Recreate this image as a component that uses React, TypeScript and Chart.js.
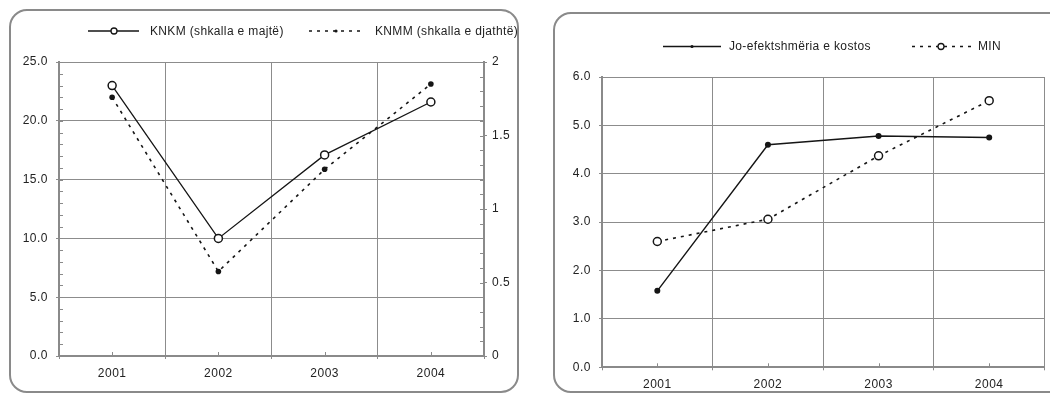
import React, { useEffect, useRef } from 'react';
import { Chart, registerables } from 'chart.js';

Chart.register(...registerables);

// ---- data ----
const years = ['2001', '2002', '2003', '2004'];
const knkm = [23.0, 10.0, 17.1, 21.6];
const knmm = [1.76, 0.575, 1.27, 1.85];
const joEfekt = [1.58, 4.6, 4.78, 4.75];
const minVals = [2.6, 3.06, 4.37, 5.51];

const labelKNKM = 'KNKM (shkalla e majtë)';
const labelKNMM = 'KNMM (shkalla e djathtë)';
const labelJo = 'Jo-efektshmëria e kostos';
const labelMIN = 'MIN';

// ---- styles ----
const FONT = '"Liberation Sans", Arial, Helvetica, sans-serif';
const TEXT = '#222';
const GRID = '#8c8c8c';
const AXIS = '#8a8a8a';
const INK = '#151515';

type LegendItem = {
  text: string;
  x1: number;
  x2: number;
  mx: number;
  tx: number;
  y: number;
  dash: number[];
  marker: 'open' | 'dot';
};

type Minor = { axis: string; step: number; side: 'left' | 'right' };

function makeDecor(legend: LegendItem[], minor: Minor[]) {
  return {
    id: 'decor',
    beforeDraw(chart: any) {
      chart.ctx.letterSpacing = '0.5px';
    },
    beforeDatasetsDraw(chart: any) {
      const ctx = chart.ctx;
      const area = chart.chartArea;
      ctx.save();
      ctx.strokeStyle = AXIS;
      ctx.lineWidth = 1;
      ctx.setLineDash([]);
      for (const m of minor) {
        const sc = chart.scales[m.axis];
        const n = Math.round((sc.max - sc.min) / m.step);
        for (let i = 0; i <= n; i++) {
          const y = Math.round(sc.getPixelForValue(sc.min + i * m.step)) + 0.5;
          ctx.beginPath();
          if (m.side === 'left') {
            ctx.moveTo(area.left, y);
            ctx.lineTo(area.left + 4, y);
          } else {
            ctx.moveTo(area.right - 4, y);
            ctx.lineTo(area.right, y);
          }
          ctx.stroke();
        }
      }
      const xs = chart.scales.x;
      for (let i = 0; i < chart.data.labels.length; i++) {
        const x = Math.round(xs.getPixelForValue(i)) + 0.5;
        ctx.beginPath();
        ctx.moveTo(x, area.bottom);
        ctx.lineTo(x, area.bottom - 4);
        ctx.stroke();
      }
      ctx.restore();
    },
    afterDraw(chart: any) {
      const ctx = chart.ctx;
      ctx.save();
      for (const it of legend) {
        ctx.strokeStyle = INK;
        ctx.lineWidth = 1.4;
        ctx.setLineDash(it.dash);
        ctx.beginPath();
        ctx.moveTo(it.x1, it.y);
        ctx.lineTo(it.x2, it.y);
        ctx.stroke();
        ctx.setLineDash([]);
        ctx.beginPath();
        if (it.marker === 'open') {
          ctx.arc(it.mx, it.y, 3, 0, Math.PI * 2);
          ctx.fillStyle = '#fff';
          ctx.fill();
          ctx.lineWidth = 1.3;
          ctx.stroke();
        } else {
          ctx.arc(it.mx, it.y, 1.6, 0, Math.PI * 2);
          ctx.fillStyle = INK;
          ctx.fill();
        }
        ctx.fillStyle = TEXT;
        ctx.font = `12px ${FONT}`;
        ctx.letterSpacing = '0.35px';
        ctx.textBaseline = 'middle';
        ctx.textAlign = 'left';
        ctx.fillText(it.text, it.tx, it.y + 0.5);
      }
      ctx.restore();
    },
  };
}

const tickFont = { family: FONT, size: 12 };

function LeftChart() {
  const ref = useRef<HTMLCanvasElement>(null);
  useEffect(() => {
    const legend: LegendItem[] = [
      { text: labelKNKM, x1: 88, x2: 139, mx: 114, tx: 150, y: 31, dash: [], marker: 'open' },
      { text: labelKNMM, x1: 309, x2: 365, mx: 336, tx: 375, y: 31, dash: [3, 5], marker: 'dot' },
    ];
    const chart = new Chart(ref.current as HTMLCanvasElement, {
      type: 'line',
      data: {
        labels: years,
        datasets: [
          {
            label: labelKNKM,
            data: knkm,
            yAxisID: 'y',
            borderColor: INK,
            borderWidth: 1.3,
            pointRadius: 4,
            pointBorderWidth: 1.5,
            pointBackgroundColor: '#fff',
            pointBorderColor: INK,
            tension: 0,
          },
          {
            label: labelKNMM,
            data: knmm,
            yAxisID: 'y1',
            borderColor: INK,
            borderWidth: 1.6,
            borderDash: [3, 5],
            pointRadius: 2.8,
            pointBorderWidth: 0,
            pointBackgroundColor: INK,
            pointBorderColor: INK,
            tension: 0,
          },
        ],
      },
      options: {
        responsive: false,
        animation: false,
        devicePixelRatio: 1,
        layout: { padding: { top: 62, left: 0, right: 0, bottom: 0 } },
        plugins: { legend: { display: false }, tooltip: { enabled: false } },
        scales: {
          x: {
            offset: true,
            grid: { offset: true, color: GRID, lineWidth: 1, tickLength: 3 },
            border: { color: AXIS, width: 2 },
            ticks: { font: tickFont, color: TEXT, padding: 7 },
            afterFit: (s: any) => {
              s.height = 39;
            },
          },
          y: {
            position: 'left',
            min: 0,
            max: 25,
            grid: { color: GRID, lineWidth: 1, tickLength: 3 },
            border: { color: AXIS, width: 2 },
            ticks: {
              stepSize: 5,
              font: tickFont,
              color: TEXT,
              padding: 8,
              callback: (v: any) => Number(v).toFixed(1),
            },
            afterFit: (s: any) => {
              s.width = 59;
            },
          },
          y1: {
            position: 'right',
            min: 0,
            max: 2,
            grid: { drawOnChartArea: false, color: AXIS, tickLength: 3 },
            border: { color: AXIS, width: 2 },
            ticks: {
              stepSize: 0.5,
              font: tickFont,
              color: TEXT,
              padding: 5,
              callback: (v: any) => String(v),
            },
            afterFit: (s: any) => {
              s.width = 46;
            },
          },
        },
      },
      plugins: [
        makeDecor(legend, [
          { axis: 'y', step: 1, side: 'left' },
          { axis: 'y1', step: 0.1, side: 'right' },
        ]),
      ],
    } as any);
    return () => chart.destroy();
  }, []);
  return (
    <canvas
      ref={ref}
      width={530}
      height={395}
      style={{ position: 'absolute', left: 0, top: 0, width: 530, height: 395 }}
    />
  );
}

function RightChart() {
  const ref = useRef<HTMLCanvasElement>(null);
  useEffect(() => {
    const legend: LegendItem[] = [
      { text: labelJo, x1: 133, x2: 191, mx: 162, tx: 199, y: 46.5, dash: [], marker: 'dot' },
      { text: labelMIN, x1: 382, x2: 443, mx: 411, tx: 448, y: 46.5, dash: [3, 5], marker: 'open' },
    ];
    const chart = new Chart(ref.current as HTMLCanvasElement, {
      type: 'line',
      data: {
        labels: years,
        datasets: [
          {
            label: labelJo,
            data: joEfekt,
            borderColor: INK,
            borderWidth: 1.4,
            pointRadius: 3,
            pointBorderWidth: 0,
            pointBackgroundColor: INK,
            pointBorderColor: INK,
            tension: 0,
          },
          {
            label: labelMIN,
            data: minVals,
            borderColor: INK,
            borderWidth: 1.6,
            borderDash: [3, 5],
            pointRadius: 4,
            pointBorderWidth: 1.5,
            pointBackgroundColor: '#fff',
            pointBorderColor: INK,
            tension: 0,
          },
        ],
      },
      options: {
        responsive: false,
        animation: false,
        devicePixelRatio: 1,
        layout: { padding: { top: 77, left: 0, right: 5, bottom: 0 } },
        plugins: { legend: { display: false }, tooltip: { enabled: false } },
        scales: {
          x: {
            offset: true,
            grid: { offset: true, color: GRID, lineWidth: 1, tickLength: 3 },
            border: { color: AXIS, width: 2 },
            ticks: { font: tickFont, color: TEXT, padding: 7 },
            afterFit: (s: any) => {
              s.height = 27.7;
            },
          },
          y: {
            position: 'left',
            min: 0,
            max: 6,
            grid: { color: GRID, lineWidth: 1, tickLength: 3 },
            border: { color: AXIS, width: 2 },
            ticks: {
              stepSize: 1,
              font: tickFont,
              color: TEXT,
              padding: 8,
              callback: (v: any) => Number(v).toFixed(1),
            },
            afterFit: (s: any) => {
              s.width = 72;
            },
          },
        },
      },
      plugins: [makeDecor(legend, [])],
    } as any);
    return () => chart.destroy();
  }, []);
  return (
    <canvas
      ref={ref}
      width={520}
      height={395}
      style={{ position: 'absolute', left: 530, top: 0, width: 520, height: 395 }}
    />
  );
}

export default function App() {
  const box: React.CSSProperties = {
    position: 'absolute',
    border: '2px solid #8a8a8a',
    borderRadius: 18,
    boxSizing: 'border-box',
  };
  return (
    <div
      style={{
        position: 'fixed',
        left: 0,
        top: 0,
        width: 1050,
        height: 395,
        background: '#fff',
        overflow: 'hidden',
        fontFamily: FONT,
      }}
    >
      <div style={{ ...box, left: 9, top: 9, width: 510, height: 384 }} />
      <div style={{ ...box, left: 553, top: 12, width: 600, height: 381 }} />
      <LeftChart />
      <RightChart />
    </div>
  );
}
